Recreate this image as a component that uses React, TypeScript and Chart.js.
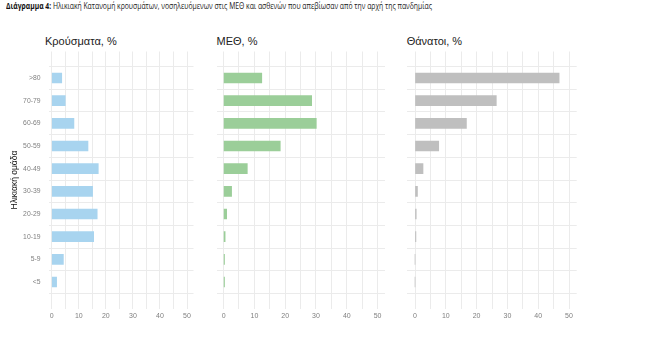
import React, { useEffect, useLayoutEffect, useRef } from "react";
import { Chart, registerables } from "chart.js";

Chart.register(...registerables);

const ageGroups = [">80", "70-79", "60-69", "50-59", "40-49", "30-39", "20-29", "10-19", "5-9", "<5"];
const casesPct = [3.7, 5.0, 8.2, 13.4, 17.2, 15.1, 16.8, 15.5, 4.3, 1.8];
const icuPct = [12.4, 28.6, 30.1, 18.4, 7.7, 2.6, 1.0, 0.5, 0.3, 0.3];
const deathsPct = [46.8, 26.4, 16.7, 7.7, 2.6, 0.8, 0.4, 0.3, 0, 0];
const xTickValues = [0, 5, 10, 15, 20, 25, 30, 35, 40, 45, 50];
const panelTitles = ["Κρούσματα, %", "ΜΕΘ, %", "Θάνατοι, %"];
const yAxisTitle = "Ηλικιακή ομάδα";
const titleBold = "Διάγραμμα 4:";
const titleRest = " Ηλικιακή Κατανομή κρουσμάτων, νοσηλευόμενων στις ΜΕΘ και ασθενών που απεβίωσαν από την αρχή της πανδημίας";

const W = 650;
const H = 339;
const AREA_TOP = 51.5;
const AREA_BOTTOM = 308.5;
const X_AXIS_H = 20;
const GRID = "#ebebeb";
const TICK_COLOR = "#7f7f7f";

const panels = [
  { data: casesPct, color: "#a8d4ef", left: 48.5, right: 193.5, xMin: -1.2, xMax: 52.4, showY: true, titleX: 45 },
  { data: icuPct, color: "#9bce99", left: 216.5, right: 385, xMin: -2.3, xMax: 52.4, showY: false, titleX: 216.5 },
  { data: deathsPct, color: "#bfbfbf", left: 407.3, right: 576.7, xMin: -2.5, xMax: 52.5, showY: false, titleX: 406.7 },
];

function makeChart(canvas: HTMLCanvasElement, p: typeof panels[number]) {
  return new Chart(canvas, {
    type: "bar",
    data: {
      datasets: [
        {
          data: p.data.map((v, i) => ({ x: v, y: i })),
          backgroundColor: p.color,
          borderWidth: 0,
          barThickness: 10,
        },
      ],
    },
    options: {
      indexAxis: "y",
      animation: false,
      responsive: false,
      devicePixelRatio: 1,
      layout: {
        padding: {
          left: p.showY ? 0 : p.left,
          right: W - p.right,
          top: AREA_TOP,
          bottom: H - AREA_BOTTOM - X_AXIS_H,
        },
      },
      plugins: { legend: { display: false }, tooltip: { enabled: false }, title: { display: false } },
      scales: {
        x: {
          type: "linear",
          position: "bottom",
          min: p.xMin,
          max: p.xMax,
          border: { display: false },
          grid: { color: GRID, lineWidth: 1, drawTicks: false },
          afterBuildTicks: (scale: any) => {
            scale.ticks = xTickValues.map((v) => ({ value: v }));
          },
          afterFit: (scale: any) => {
            scale.height = X_AXIS_H;
          },
          ticks: {
            autoSkip: false,
            maxRotation: 0,
            padding: 3,
            color: TICK_COLOR,
            font: { family: "'Liberation Sans', Arial, sans-serif", size: 7 },
            callback: (v: any) => (Number(v) % 10 === 0 ? String(v) : ""),
          },
        },
        y: {
          type: "linear",
          position: "left",
          reverse: true,
          min: -0.6,
          max: ageGroups.length - 0.4,
          border: { display: false },
          grid: { color: GRID, lineWidth: 1, drawTicks: false },
          afterBuildTicks: (scale: any) => {
            scale.ticks = ageGroups.map((_, i) => ({ value: i }));
          },
          afterFit: (scale: any) => {
            scale.width = p.showY ? p.left : 0;
          },
          ticks: {
            display: p.showY,
            autoSkip: false,
            padding: 8,
            color: TICK_COLOR,
            font: { family: "'Liberation Sans', Arial, sans-serif", size: 6.8 },
            callback: (v: any) => ageGroups[Math.round(Number(v))] ?? "",
          },
          title: {
            display: p.showY,
            text: yAxisTitle,
            color: "#111",
            font: { family: "'Liberation Sans', Arial, sans-serif", size: 8.5 },
            padding: { top: 9.9, bottom: 0 },
          },
        },
      },
    },
  } as any);
}

export default function App() {
  const refs = [useRef<HTMLCanvasElement>(null), useRef<HTMLCanvasElement>(null), useRef<HTMLCanvasElement>(null)];
  const titleRef = useRef<HTMLSpanElement>(null);

  useLayoutEffect(() => {
    const el = titleRef.current;
    if (el) {
      el.style.transform = "none";
      const w = el.getBoundingClientRect().width;
      if (w > 0) el.style.transform = `scaleX(${426 / w})`;
    }
  }, []);

  useEffect(() => {
    const charts = panels.map((p, i) => makeChart(refs[i].current as HTMLCanvasElement, p));
    return () => charts.forEach((c) => c.destroy());
  }, []);

  return (
    <div style={{ position: "absolute", left: 0, top: 0, width: W, height: H, background: "#fff", overflow: "hidden" }}>
      <span
        ref={titleRef}
        style={{
          position: "absolute",
          left: 6,
          top: 0,
          whiteSpace: "nowrap",
          fontFamily: "'Open Sans', 'Noto Sans', sans-serif",
          fontSize: 9.5,
          lineHeight: "12px",
          color: "#222",
          transformOrigin: "left top",
        }}
      >
        <b style={{ color: "#111" }}>{titleBold}</b>
        {titleRest}
      </span>
      {panels.map((p, i) => (
        <div
          key={"t" + i}
          style={{
            position: "absolute",
            left: p.titleX,
            top: 34.5,
            fontFamily: "'Liberation Sans', Arial, sans-serif",
            fontSize: 11,
            lineHeight: "13px",
            color: "#222",
            whiteSpace: "nowrap",
          }}
        >
          {panelTitles[i]}
        </div>
      ))}
      {panels.map((_, i) => (
        <canvas
          key={"c" + i}
          ref={refs[i]}
          width={W}
          height={H}
          style={{ position: "absolute", left: 0, top: 0, width: W, height: H }}
        />
      ))}
    </div>
  );
}
